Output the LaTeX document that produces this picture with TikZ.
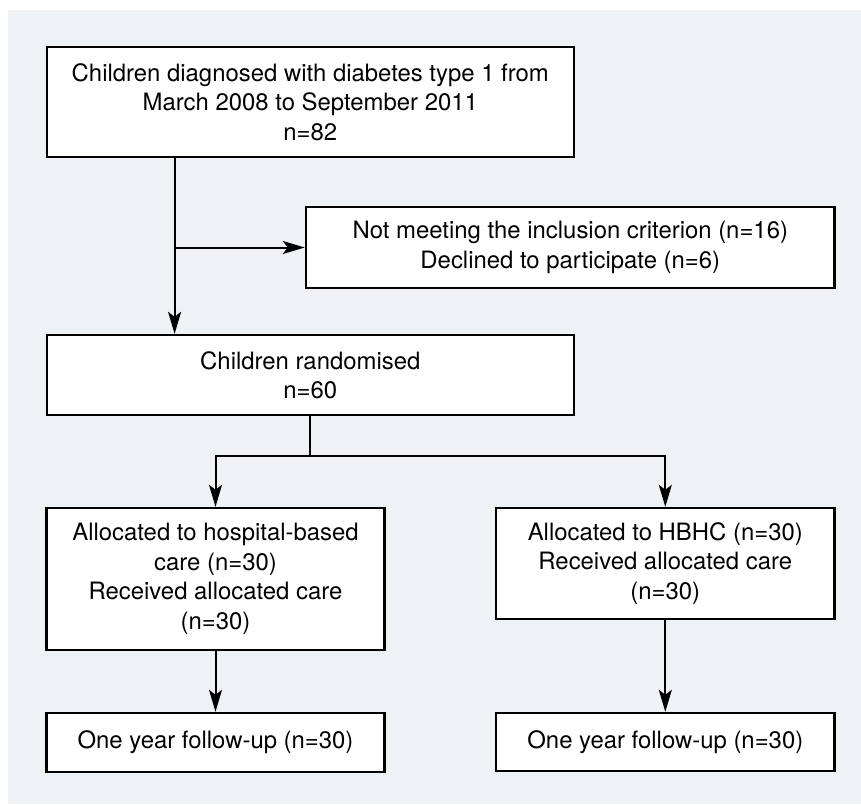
\documentclass[tikz,border=0pt]{standalone}
\usepackage{fontspec}
\setmainfont{TeX Gyre Heros}
\usetikzlibrary{arrows.meta}
\definecolor{panel}{HTML}{EEF2F5}
\begin{document}
\begin{tikzpicture}[x=1pt, y=-1pt, >={Stealth[length=22pt,width=13pt,inset=5pt]},
  box/.style={draw, line width=2.4pt, fill=white, align=center, inner sep=0pt,
    font=\fontsize{23.9}{29.5}\selectfont},
  link/.style={line width=2pt}]
\useasboundingbox (0,0) rectangle (861,804);
\fill[panel] (8,10) rectangle (861,804);
\node[box, minimum width=527pt, minimum height=110pt] (diagnosed) at (310.3,102)
  {Children diagnosed with diabetes type 1 from\\March 2008 to September 2011\\n=82};
\node[box, minimum width=528.7pt, minimum height=81pt] (excluded) at (570.3,247.5)
  {Not meeting the inclusion criterion (n=16)\\Declined to participate (n=6)};
\node[box, minimum width=527pt, minimum height=80pt] (randomised) at (310.3,375)
  {Children randomised\\n=60};
\node[box, minimum width=337.7pt, minimum height=142pt] (hospital) at (215.5,579)
  {Allocated to hospital-based\\care (n=30)\\Received allocated care\\(n=30)};
\node[box, minimum width=338.7pt, minimum height=111pt] (hbhc) at (665.3,563.5)
  {Allocated to HBHC (n=30)\\Received allocated care\\(n=30)};
\node[box, minimum width=337.7pt, minimum height=59pt] (followhosp) at (215.5,742.5)
  {One year follow-up (n=30)};
\node[box, minimum width=338.7pt, minimum height=58pt] (followhbhc) at (665.3,742)
  {One year follow-up (n=30)};
\coordinate (trunk) at (174.6,0);
\coordinate (split) at (310.3,456);
\draw[link,->] (diagnosed.south -| trunk) -- (randomised.north -| trunk);
\draw[link,->] (excluded.west -| trunk) -- (excluded.west);
\draw[link] (randomised.south) -- (split);
\draw[link,->] (split) -| (hospital.north);
\draw[link,->] (split) -| (hbhc.north);
\draw[link,->] (hospital) -- (followhosp);
\draw[link,->] (hbhc) -- (followhbhc);
\end{tikzpicture}
\end{document}
